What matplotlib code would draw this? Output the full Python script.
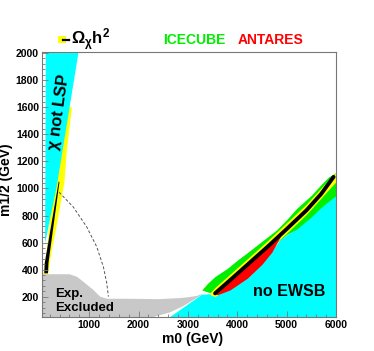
import matplotlib.pyplot as plt
import matplotlib.ticker as mticker
from matplotlib.patches import Rectangle
from matplotlib.lines import Line2D

plt.rcParams['font.family'] = ['Liberation Sans', 'DejaVu Sans']
plt.rcParams['font.weight'] = 'bold'
plt.rcParams['mathtext.fontset'] = 'custom'
plt.rcParams['mathtext.rm'] = 'Liberation Sans:bold'
plt.rcParams['mathtext.it'] = 'Liberation Sans:bold'
plt.rcParams['mathtext.bf'] = 'Liberation Sans:bold'

# --- regions (m0, m1/2 in GeV) ---
# chi not LSP wedge (upper left)
lsp_m0 = [120, 781, 340, 107]
lsp_m12 = [2000, 2000, 1010, 595]

# relic density band near the LSP boundary
yel_l_m0 = [650, 546, 500, 330, 243, 180, 170, 70, 87, 141, 290, 400, 560]
yel_l_m12 = [1600, 1278, 1050, 700, 544, 400, 366, 366, 410, 544, 1051, 1278, 1600]
blk_l_m0 = [383, 397, 175, 165, 90, 100]
blk_l_m12 = [1052, 1046, 450, 373, 373, 450]

# dashed contour
dash_m0 = [390, 680, 951, 1154, 1287, 1356, 1389]
dash_m12 = [972, 862, 715, 568, 421, 300, 201]

# experimentally excluded region
exp_m0 = [40, 40, 600, 750, 880, 1085, 1220, 1360, 1800, 2400, 2840, 3000, 3180, 3300,
          3280, 2900, 2640, 2300]
exp_m12 = [50, 366, 366, 348, 311, 250, 201, 185, 185, 182, 190, 196, 206, 222,
           214, 130, 85, 50]

# no EWSB region
ewsb_m0 = [2640, 2900, 3280, 3550, 3850, 4200, 4500, 4880, 5200, 5500, 5850, 6000, 6000]
ewsb_m12 = [50, 116, 214, 222, 250, 336, 440, 620, 699, 790, 905, 948, 50]

# focus point band
band_m0 = [3550, 3800, 4200, 4600, 5000, 5400, 5700, 5950]
band_m12 = [225, 305, 435, 565, 700, 838, 960, 1085]

yel_m0 = [3450, 3550, 3800, 4200, 4600, 5000, 5400, 5700, 6000]
yel_lo = [215, 200, 275, 405, 535, 670, 808, 930, 1050]
yel_hi = [230, 270, 350, 480, 610, 748, 885, 1005, 1120]

ice_m0 = [3280, 3400, 3550, 3800, 4000, 4200, 4500, 4800, 5000, 5200, 5500, 5700, 5850, 6000]
ice_lo = [250, 235, 222, 290, 350, 410, 510, 600, 660, 699, 790, 860, 905, 948]
ice_hi = [250, 300, 350, 410, 470, 525, 610, 695, 770, 852, 950, 1030, 1085, 1118]

ant_m0 = [3520, 3600, 3850, 4200, 4500, 4700, 4880]
ant_lo = [225, 215, 250, 336, 440, 530, 650]
ant_hi = [228, 250, 320, 440, 535, 600, 660]

CYAN = '#00ffff'
YEL = '#ffff00'
GRN = '#00ee00'
RED = '#ff0000'
GRAY = '#c8c8c8'

fig = plt.figure(figsize=(3.74, 3.51), dpi=100)
ax = fig.add_axes([0.1115, 0.096, 0.787, 0.7567])

ax.fill(yel_l_m0, yel_l_m12, color=YEL, lw=0)
ax.fill(lsp_m0, lsp_m12, color=CYAN, lw=0)
ax.fill(blk_l_m0, blk_l_m12, color='black', lw=0)
ax.plot(dash_m0, dash_m12, color='#555555', lw=0.7, dashes=(3, 2))

ax.fill(ewsb_m0, ewsb_m12, color=CYAN, lw=0)
ax.fill(exp_m0, exp_m12, color=GRAY, lw=0)
ax.fill_between(ice_m0, ice_lo, ice_hi, color=GRN, lw=0)
ax.fill_between(yel_m0, yel_lo, yel_hi, color=YEL, lw=0)
ax.fill_between(ant_m0, ant_lo, ant_hi, color=RED, lw=0)
ax.plot(band_m0, band_m12, color='black', lw=2.8, solid_capstyle='round')

ax.text(309, 197, 'Exp.', fontsize=9.5, fontweight='bold', ha='left', va='baseline')
ax.text(309, 91, 'Excluded', fontsize=9.5, fontweight='bold', ha='left', va='baseline')
ax.text(4325, 209, 'no EWSB', fontsize=11.5, fontweight='bold', ha='left', va='baseline')
ax.text(390, 1565, r'$\chi$ not LSP', fontsize=12, fontweight='bold', rotation=82,
        ha='center', va='center')

ax.set_xlim(38, 6000)
ax.set_ylim(48, 2010)
ax.xaxis.set_major_locator(mticker.MultipleLocator(1000))
ax.xaxis.set_minor_locator(mticker.MultipleLocator(200))
ax.yaxis.set_major_locator(mticker.MultipleLocator(200))
ax.yaxis.set_minor_locator(mticker.MultipleLocator(40))
ax.set_xticks([1000, 2000, 3000, 4000, 5000, 6000])
ax.set_yticks(list(range(200, 2001, 200)))
ax.tick_params(which='both', direction='in', top=False, right=False, color='#777777',
               width=0.6, labelsize=7.5)
ax.tick_params(which='major', length=4, pad=2)
ax.tick_params(which='minor', length=2.2)
for lab in ax.get_xticklabels() + ax.get_yticklabels():
    lab.set_fontweight('bold')
for s in ax.spines.values():
    s.set_color('#777777')
    s.set_linewidth(0.8)

ax.set_xlabel('m0 (GeV)', fontsize=10, fontweight='bold')
ax.set_ylabel('m1/2 (GeV)', fontsize=10, fontweight='bold')
ax.xaxis.set_label_coords(0.511, -0.055)
ax.yaxis.set_label_coords(-0.098, 0.517)

# legend row above the frame
fig.patches.append(Rectangle((0.154, 0.8775), 0.0214, 0.02, transform=fig.transFigure,
                             color=YEL, lw=0))
fig.lines.append(Line2D([0.1676, 0.1845], [0.886, 0.886], transform=fig.transFigure,
                        color='black', lw=1.6))
fig.text(0.19, 0.874, r'$\Omega_{\chi}h^2$', fontsize=12, ha='left', va='baseline')
fig.text(0.436, 0.874, 'ICECUBE', color=GRN, fontsize=10, fontweight='bold',
         ha='left', va='baseline')
fig.text(0.636, 0.874, 'ANTARES', color=RED, fontsize=10, fontweight='bold',
         ha='left', va='baseline')

fig.savefig('out.png', dpi=100)
